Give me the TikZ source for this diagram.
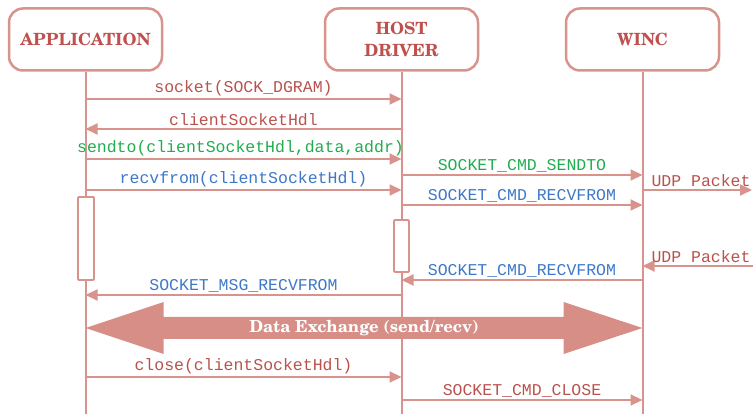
\documentclass[tikz,border=0pt]{standalone}
\usepackage{fontspec}
\usetikzlibrary{arrows.meta,calc}
\IfFontExistsTF{TeX Gyre Schola}{\newfontfamily\boxfont{TeX Gyre Schola}}{\newfontfamily\boxfont{Liberation Serif}}
\newfontfamily\codefont{Liberation Mono}
\definecolor{linec}{RGB}{217,147,141}
\definecolor{boxtext}{RGB}{192,80,77}
\definecolor{lblred}{RGB}{185,82,77}
\definecolor{lblgreen}{RGB}{34,172,80}
\definecolor{lblblue}{RGB}{62,120,200}
\definecolor{bigc}{RGB}{214,142,135}
\begin{document}
\begin{tikzpicture}[x=1pt,y=-1pt,
  head/.style={draw=linec, line width=2.5pt, rounded corners=14pt, fill=white, text=boxtext,
    font=\boxfont\bfseries\fontsize{16.8}{22}\selectfont, align=center,
    minimum width=153pt, minimum height=62pt, inner sep=0pt},
  life/.style={draw=linec, line width=2pt},
  act/.style={draw=linec, line width=1.8pt, fill=white, rounded corners=1pt, inner sep=0pt},
  msg/.style={draw=linec, line width=2pt, -{Triangle[length=12pt,width=11pt]}},
  lbl/.style={font=\codefont\fontsize{16.5}{18}\selectfont, inner sep=2pt},
  red/.style={lbl, text=lblred},
  grn/.style={lbl, text=lblgreen},
  blu/.style={lbl, text=lblblue}
]
\useasboundingbox (0,0) rectangle (753,414);

% participants
\node[head] (app)  at (85.5,39.5)  {APPLICATION};
\node[head] (host) at (401.5,39.5) {HOST\\DRIVER};
\node[head] (winc) at (642.5,39.5) {WINC};

% lifelines
\draw[life] (app.south)  -- (app.south |- 0,414);
\draw[life] (host.south) -- (host.south |- 0,414);
\draw[life] (winc.south) -- (winc.south |- 0,414);

% activation boxes
\node[act, minimum width=16pt, minimum height=83pt] (act1) at (86,238.5) {};
\node[act, minimum width=15pt, minimum height=52pt] (act2) at (401.5,246) {};

% free ends at the right border
\coordinate (udpout) at (752,190);
\coordinate (udpin)  at (753,266);

% messages
\draw[msg] (app.south |- 0,99) -- node[red,above]{socket(SOCK\_DGRAM)} (host.south |- 0,99);
\draw[msg] (host.south |- 0,129) -- node[red,above]{clientSocketHdl} (app.south |- 0,129);
\draw[msg] (app.south |- 0,159) -- node[grn,above,xshift=-3pt]{sendto(clientSocketHdl,data,addr)} (host.south |- 0,159);
\draw[msg] (host.south |- 0,175) -- node[grn,above]{SOCKET\_CMD\_SENDTO} (winc.south |- 0,175);
\draw[msg] (app.south |- 0,190) -- node[blu,above]{recvfrom(clientSocketHdl)} (host.south |- 0,190);
\draw[msg] (winc.south |- 0,190) -- node[red,pos=0,above right,xshift=6pt]{UDP Packet} (udpout);
\draw[msg] (host.south |- 0,205) -- node[blu,above]{SOCKET\_CMD\_RECVFROM} (winc.south |- 0,205);
\draw[msg] (udpin) -- node[red,pos=1,above right,xshift=6pt]{UDP Packet} (winc.south |- 0,266);
\draw[msg] (winc.south |- 0,280) -- node[blu,above]{SOCKET\_CMD\_RECVFROM} (host.south |- 0,280);
\draw[msg] (host.south |- 0,295) -- node[blu,above]{SOCKET\_MSG\_RECVFROM} (app.south |- 0,295);

% data exchange double arrow
\fill[bigc] (app.south |- 0,328) -- ++(78,-26) -- ++(0,15)
  -- ($(winc.south |- 0,317)+(-79,0)$) -- ++(0,-15) -- (winc.south |- 0,328)
  -- ++(-79,26) -- ++(0,-15) -- ($(app.south |- 0,339)+(78,0)$) -- ++(0,15) -- cycle;
\node[text=white, font=\boxfont\bfseries\fontsize{16.6}{18}\selectfont, inner sep=0pt] (dx)
  at ($(app.south |- 0,328)!0.5!(winc.south |- 0,328)$) {Data Exchange (send/recv)};

\draw[msg] (app.south |- 0,377) -- node[red,above]{close(clientSocketHdl)} (host.south |- 0,377);
\draw[msg] (host.south |- 0,400) -- node[red,above]{SOCKET\_CMD\_CLOSE} (winc.south |- 0,400);
\end{tikzpicture}
\end{document}
